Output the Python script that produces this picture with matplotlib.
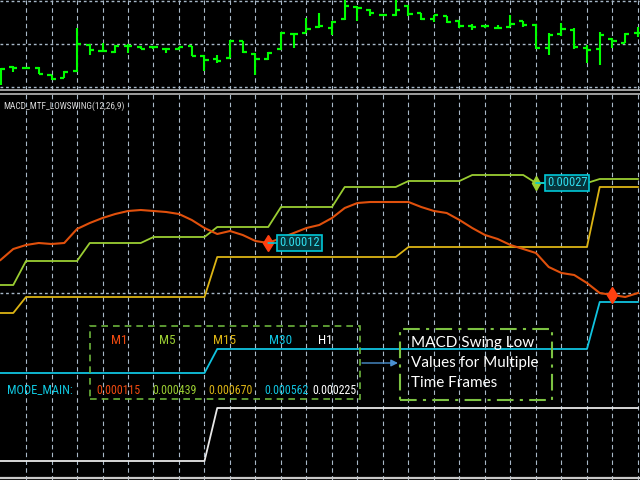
import matplotlib
matplotlib.use('Agg')
import matplotlib.pyplot as plt
from matplotlib import font_manager
from matplotlib.patches import Rectangle
import numpy as np

# price bars (points, M5 chart), index 0..50
bar_open = [18, 21, 20, 20, 13, 10, 17, 43, 37, 36, 42, 41, 41, 39, 39, 42, 32, 29, 30, 47, 34, 29, 39, 54, 55, 61,
            60, 69, 81, 78, 73, 73, 82, 75, 69, 72, 67, 62, 62, 60, 61, 67, 63, 40, 54, 58, 40, 39, 49, 45, 55]
bar_high = [20, 22, 20, 21, 13, 17, 60, 44, 45, 43, 44, 42, 42, 40, 41, 42, 33, 33, 48, 47, 35, 36, 56, 55, 70, 75,
            67, 88, 82, 79, 74, 88, 83, 75, 73, 72, 68, 64, 63, 63, 73, 67, 64, 55, 65, 60, 43, 56, 50, 55, 61]
bar_low = [3, 16, 19, 14, 8, 10, 16, 33, 36, 35, 35, 39, 39, 35, 38, 32, 17, 25, 30, 35, 13, 28, 38, 40, 55, 60,
           53, 68, 67, 72, 72, 72, 72, 68, 66, 65, 60, 58, 60, 59, 61, 61, 39, 33, 52, 39, 25, 23, 40, 45, 51]
bar_close = [19, 20, 20, 14, 9, 16, 44, 38, 37, 42, 42, 39, 41, 39, 41, 32, 28, 27, 47, 36, 29, 35, 55, 54, 59, 62,
             66, 82, 80, 75, 73, 78, 74, 69, 73, 66, 62, 61, 62, 60, 64, 63, 40, 53, 59, 41, 38, 53, 47, 54, 55]

# swing low lines per timeframe
m1 = [218, 229, 233, 235, 234, 235, 249, 255, 260, 264, 267, 268, 267, 266, 264, 258, 250, 244, 247, 243, 237, 235,
      240, 245, 250, 253, 260, 270, 275, 276, 276, 276, 276, 271, 267, 265, 258, 250, 243, 239, 233, 229, 225, 211,
      205, 203, 195, 185, 183, 181, 185]
m5 = [193, 193] + [217] * 5 + [235] * 5 + [241] * 5 + [251] * 5 + [271] * 5 + [291] * 5 + [297] * 5 + [303] * 5 \
     + [295] * 5 + [299] * 4
m15 = [165, 165] + [181] * 15 + [221] * 15 + [231] * 15 + [291] * 4
m30 = [105] * 17 + [129] * 30 + [176] * 4
h1 = [17] * 17 + [70] * 34

m1_swings = [21, 48]
m5_swings = [42]
swing_labels = {('M1', 21): '0.00012', ('M5', 42): '0.00027'}

tf_names = ['M1', 'M5', 'M15', 'M30', 'H1']
tf_values = ['0.000115', '0.000439', '0.000670', '0.000562', '0.000225']
tf_colors = ['#f04a10', '#9acd32', '#dcb414', '#10c4e0', '#ffffff']

bars = np.arange(len(bar_open))
gridc = '#a8b8c8'

# MT4 uses a narrow font; take a condensed one if there is one
installed = {f.name for f in font_manager.fontManager.ttflist}
if 'Liberation Sans Narrow' in installed:
    narrow, nscale = 'Liberation Sans Narrow', 1.0
elif 'Roboto Condensed' in installed:
    narrow, nscale = 'Roboto Condensed', 0.95
else:
    narrow, nscale = 'Liberation Sans', 0.8

fig = plt.figure(figsize=(6.4, 4.8), dpi=100, facecolor='black')
ax_p = fig.add_axes([0, 1 - 90 / 480, 1, 90 / 480])
ax_i = fig.add_axes([0, 0, 1, 386 / 480])

for ax in (ax_p, ax_i):
    ax.set_facecolor('black')
    ax.set_xlim(-0.04, 50.16)
    ax.set_xticks([])
    ax.set_yticks([])
    for s in ax.spines.values():
        s.set_visible(False)
    for g in range(2, 51, 2):
        ax.axvline(g, color=gridc, lw=0.8, ls=(0, (4, 3)), zorder=0)

ax_p.spines['bottom'].set_visible(True)
ax_p.spines['bottom'].set_color('#b8b8b8')
ax_p.spines['bottom'].set_linewidth(1.2)
ax_i.spines['top'].set_visible(True)
ax_i.spines['top'].set_color('#b8b8b8')
ax_i.spines['top'].set_linewidth(1.2)

# price panel
ax_p.set_ylim(-2, 88)
for lv in (87, 44, 1):
    ax_p.axhline(lv, color=gridc, lw=1, ls=(0, (2, 2)), zorder=0)
ax_p.vlines(bars, bar_low, bar_high, color='#00ff00', lw=1.5)
ax_p.hlines(bar_open, bars - 0.33, bars, color='#00ff00', lw=1.6)
ax_p.hlines(bar_close, bars, bars + 0.33, color='#00ff00', lw=1.6)

# indicator panel
ax_i.set_ylim(-2, 384)
ax_i.axhline(185, color=gridc, lw=1, ls=(0, (2, 2)), zorder=0)
ax_i.axhline(0, color='#c8c8c8', lw=1.6)

ax_i.plot(bars, h1, color='#e8e8e8', lw=1.3)
ax_i.plot(bars, m30, color=tf_colors[3], lw=1.3)
ax_i.plot(bars, m15, color=tf_colors[2], lw=1.3)
ax_i.plot(bars, m5, color=tf_colors[1], lw=1.3)
ax_i.plot(bars, m1, color='#e0500c', lw=1.5)

for i in m1_swings:
    ax_i.plot(i, m1[i], marker='d', ms=8, color='#ff4010', mec='#ff4010')
for i in m5_swings:
    ax_i.plot(i, m5[i], marker='d', ms=7, color='#9acd32', mec='#9acd32')

for (tf, i), txt in swing_labels.items():
    yv = m1[i] if tf == 'M1' else m5[i]
    ax_i.annotate(txt, xy=(i, yv), xytext=(11, 0), textcoords='offset pixels',
                  ha='left', va='center', color='#30e0f0', fontsize=9.5 * nscale, family=narrow,
                  bbox=dict(boxstyle='square,pad=0.15', fc='#06343a', ec='#00c8d8', lw=1.2),
                  arrowprops=dict(arrowstyle='-', color='#00c8d8', lw=1.2, shrinkA=0, shrinkB=0))


def fx(x):
    return x / 640


def fy(y):
    return 1 - y / 480


fig.text(fx(3), fy(106), 'MACD_MTF_LOWSWING(12,26,9)', color='#d8d8d8', fontsize=7 * nscale,
         family=narrow, ha='left', va='center')

# values table
fig.add_artist(Rectangle((fx(90), fy(399)), fx(270), 73 / 480, transform=fig.transFigure,
                         fill=False, ec='#6cb43c', lw=1.2, ls=(0, (4, 3))))
name_x = [119, 167, 225, 281, 325]
val_x = [96, 152, 208, 264, 312]
for n, v, c, nx, vx in zip(tf_names, tf_values, tf_colors, name_x, val_x):
    fig.text(fx(nx), fy(341), n, color=c, fontsize=10 * nscale, family=narrow, ha='center', va='center')
    fig.text(fx(vx), fy(390), v, color=c, fontsize=9 * nscale, family=narrow, ha='left', va='center')
fig.text(fx(7), fy(390), 'MODE_MAIN:', color='#10c8e0', fontsize=9.5 * nscale, family=narrow,
         ha='left', va='center')

# note box
fig.add_artist(Rectangle((fx(400), fy(400)), fx(152), 71 / 480, transform=fig.transFigure,
                         fill=False, ec='#7cc242', lw=1.5, ls=(0, (8, 3, 1.5, 3))))
for k, line in enumerate(['MACD Swing Low', 'Values for Multiple', 'Time Frames']):
    fig.text(fx(411), fy(343 + 20 * k), line, color='white', fontsize=11, family='Lato',
             ha='left', va='center')
ax_i.annotate('', xy=(398, 480 - 363), xytext=(362, 480 - 363), xycoords='figure pixels',
              textcoords='figure pixels',
              arrowprops=dict(arrowstyle='-|>', color='#4a90d0', lw=1, mutation_scale=10,
                              shrinkA=0, shrinkB=0))

fig.savefig('out.png', dpi=100, facecolor='black')
